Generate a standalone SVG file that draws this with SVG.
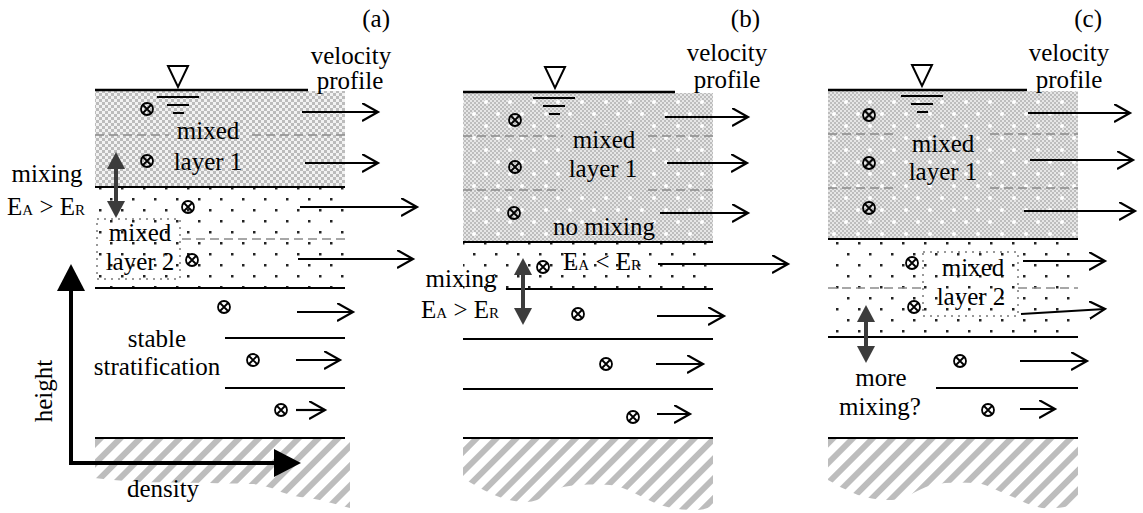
<svg xmlns="http://www.w3.org/2000/svg" width="1143" height="513" viewBox="0 0 1143 513" font-family="'Liberation Serif', 'DejaVu Serif', serif">
<defs>
<style>
text{font-family:'Liberation Serif','DejaVu Serif',serif;font-size:25px;fill:#000}
.m{text-anchor:middle}
.ln{stroke:#000;stroke-width:2;fill:none}
.sf{stroke:#000;stroke-width:2.5;fill:none}
.ds{stroke:#8a8a8a;stroke-width:1.6;stroke-dasharray:9 5;fill:none}
.va{stroke:#000;stroke-width:2.2;fill:none;marker-end:url(#vh)}
.mx{stroke:#3c3c3c;stroke-width:4;fill:none;marker-start:url(#mh);marker-end:url(#mh)}
.bx{fill:none;stroke:#999;stroke-width:2;stroke-dasharray:2 5}
</style>
<pattern id="chkA" width="6" height="6" patternUnits="userSpaceOnUse"><rect width="6" height="6" fill="#f2f2f2"/><rect width="3" height="3" fill="#bcbcbc"/><rect x="3" y="3" width="3" height="3" fill="#bcbcbc"/></pattern>
<pattern id="chkS" width="4" height="4" patternUnits="userSpaceOnUse"><rect width="4" height="4" fill="#e6e6e6"/><rect width="2" height="2" fill="#bdbdbd"/><rect x="2" y="2" width="2" height="2" fill="#bdbdbd"/></pattern>
<pattern id="chkB" width="24" height="24" patternUnits="userSpaceOnUse"><rect width="24" height="24" fill="url(#chkS)"/><circle cx="6" cy="6" r="2" fill="#fff"/><circle cx="18" cy="18" r="2" fill="#fff"/></pattern>
<pattern id="dots" width="22" height="22" patternUnits="userSpaceOnUse"><rect width="22" height="22" fill="#fff"/><rect x="0" y="0" width="2.5" height="2.5" fill="#222"/><rect x="11" y="11" width="2.5" height="2.5" fill="#222"/></pattern>
<pattern id="hatch" width="14" height="14" patternUnits="userSpaceOnUse" patternTransform="rotate(45)"><rect width="14" height="14" fill="#fff"/><rect width="6" height="14" fill="#bdbdbd"/></pattern>
<marker id="vh" markerUnits="userSpaceOnUse" markerWidth="20" markerHeight="20" refX="16" refY="9" orient="auto"><path d="M0,0 L16,9 L0,18" fill="none" stroke="#000" stroke-width="2.2"/></marker>
<marker id="mh" markerUnits="userSpaceOnUse" markerWidth="18" markerHeight="18" refX="7" refY="9" orient="auto-start-reverse"><path d="M0,0 L17,9 L0,18 z" fill="#3c3c3c"/></marker>
<marker id="ah" markerUnits="userSpaceOnUse" markerWidth="28" markerHeight="30" refX="16" refY="14" orient="auto-start-reverse"><path d="M0,0 L27,14 L0,28 z" fill="#000"/></marker>
<g id="ox"><circle r="6" fill="none" stroke="#000" stroke-width="1.8"/><path d="M-4,-4 L4,4 M-4,4 L4,-4" stroke="#000" stroke-width="1.8"/></g>
<path id="wl" d="M0,0 H42 M10,8 H32 M16,16 H27" stroke="#000" stroke-width="2"/>
<path id="nab" d="M0,0 H20 L10,21 Z" fill="none" stroke="#000" stroke-width="2"/>
</defs>
<rect width="1143" height="513" fill="#fff"/>

<!-- Panel (a) -->
<g id="panel-a">
<rect x="95" y="91" width="250" height="96" fill="url(#chkA)"/>
<rect x="95" y="187" width="250" height="101" fill="url(#dots)"/>
<path d="M95,439 H350 V508 C335,504 315,498 300,497 C280,494 270,484 250,484 C220,483 170,483 140,482 C120,481 105,479 95,478 Z" fill="url(#hatch)"/>
<path class="ds" d="M95,135 H169 M252,135 H345 M182,239 H345"/>
<rect class="bx" x="97" y="219" width="83" height="60"/>
<path class="sf" d="M95,90 H308"/>
<path class="ln" d="M95,187 H345 M95,288 H345 M225,338 H345 M225,388 H345 M95,438 H345"/>
<use href="#nab" x="168" y="66"/>
<use href="#wl" x="157" y="97"/>
<use href="#ox" x="147" y="109"/><use href="#ox" x="147" y="161"/><use href="#ox" x="188" y="207"/><use href="#ox" x="192" y="260"/><use href="#ox" x="224" y="307"/><use href="#ox" x="253" y="360"/><use href="#ox" x="281" y="410"/>
<text x="390" y="27" text-anchor="end">(a)</text>
<text class="m" x="351" y="64">velocity</text>
<text class="m" x="350" y="89">profile</text>
<text class="m" x="208" y="139">mixed</text>
<text class="m" x="208" y="170">layer 1</text>
<text class="m" x="47" y="182">mixing</text>
<text x="7" y="215">E<tspan font-size="15">A</tspan> &gt; E<tspan font-size="15">R</tspan></text>
<text class="m" x="140" y="241">mixed</text>
<text class="m" x="140" y="270">layer 2</text>
<text class="m" x="157" y="347">stable</text>
<text class="m" x="157" y="375">stratification</text>
<text class="m" x="163" y="497">density</text>
<text class="m" transform="translate(52,391) rotate(-90)">height</text>
<polyline points="71,275 71,463 290,463" fill="none" stroke="#000" stroke-width="4" marker-start="url(#ah)" marker-end="url(#ah)"/>
</g>

<!-- Panel (b) -->
<g id="panel-b">
<rect x="463" y="93" width="250" height="149" fill="url(#chkB)"/>
<rect x="563" y="125" width="85" height="68" fill="url(#chkS)"/>
<rect x="463" y="242" width="250" height="47" fill="url(#dots)"/>
<path d="M463,439 H713 V505 C705,510 700,510 693,510 C680,510 670,508 660,505 C640,497 625,486 610,485 C595,484 575,484 563,487 C550,492 540,502 527,502 C510,502 495,498 463,478 Z" fill="url(#hatch)"/>
<path class="ds" d="M463,136 H563 M648,136 H713 M463,190 H563 M648,190 H713"/>
<path class="sf" d="M463,92 H675"/>
<path class="ln" d="M463,242 H713 M506,289 H713 M463,339 H713 M463,389 H713 M463,438 H713"/>
<use href="#nab" x="545" y="67"/>
<use href="#wl" x="533" y="98"/>
<use href="#ox" x="515" y="120"/><use href="#ox" x="515" y="167"/><use href="#ox" x="514" y="213"/><use href="#ox" x="543" y="267"/><use href="#ox" x="578" y="314"/><use href="#ox" x="606" y="364"/><use href="#ox" x="633" y="417"/>
<text x="760" y="27" text-anchor="end">(b)</text>
<text class="m" x="727" y="61">velocity</text>
<text class="m" x="727" y="88">profile</text>
<text class="m" x="604" y="148">mixed</text>
<text class="m" x="603" y="177">layer 1</text>
<text class="m" x="604" y="235">no mixing</text>
<text x="563" y="270">E<tspan font-size="15">A</tspan> &lt; E<tspan font-size="15">R</tspan></text>
<text class="m" x="461" y="287">mixing</text>
<text x="421" y="318">E<tspan font-size="15">A</tspan> &gt; E<tspan font-size="15">R</tspan></text>
</g>

<!-- Panel (c) -->
<g id="panel-c">
<rect x="828" y="91" width="250" height="148" fill="url(#chkB)"/>
<rect x="828" y="239" width="250" height="98" fill="url(#dots)"/>
<path d="M828,439 H1078 V503 C1065,508 1052,509 1042,508 C1025,505 1018,498 1008,495 C995,490 985,483 975,483 C960,482 945,482 932,485 C915,490 905,500 892,500 C878,500 868,498 858,495 C845,490 835,484 828,480 Z" fill="url(#hatch)"/>
<path class="ds" d="M828,134 H895 M990,134 H1078 M828,188 H895 M990,188 H1078 M828,288 H923 M1018,288 H1078"/>
<rect class="bx" x="923" y="252" width="95" height="64"/>
<path class="sf" d="M828,90 H1027"/>
<path class="ln" d="M828,239 H1078 M828,337 H1078 M936,388 H1078 M828,438 H1078"/>
<use href="#nab" x="912" y="65"/>
<use href="#wl" x="901" y="96"/>
<use href="#ox" x="869" y="115"/><use href="#ox" x="869" y="163"/><use href="#ox" x="869" y="208"/><use href="#ox" x="912" y="263"/><use href="#ox" x="914" y="307"/><use href="#ox" x="960" y="361"/><use href="#ox" x="988" y="410"/>
<text x="1102" y="27" text-anchor="end">(c)</text>
<text class="m" x="1069" y="61">velocity</text>
<text class="m" x="1069" y="88">profile</text>
<text class="m" x="943" y="152">mixed</text>
<text class="m" x="943" y="180">layer 1</text>
<text class="m" x="973" y="276">mixed</text>
<text class="m" x="971" y="305">layer 2</text>
<text class="m" x="881" y="386">more</text>
<text class="m" x="880" y="415">mixing?</text>
</g>

<!-- Connectors -->
<g id="connectors">
<line class="va" x1="302" y1="112" x2="378" y2="112"/>
<line class="va" x1="305" y1="163" x2="378" y2="163"/>
<line class="va" x1="300" y1="207" x2="417" y2="207"/>
<line class="va" x1="298" y1="259" x2="413" y2="259"/>
<line class="va" x1="297" y1="312" x2="353" y2="312"/>
<line class="va" x1="296" y1="360" x2="340" y2="360"/>
<line class="va" x1="296" y1="410" x2="325" y2="410"/>
<line class="va" x1="665" y1="117" x2="748" y2="117"/>
<line class="va" x1="667" y1="163" x2="747" y2="163"/>
<line class="va" x1="660" y1="213" x2="748" y2="213"/>
<line class="va" x1="658" y1="264" x2="788" y2="264"/>
<line class="va" x1="657" y1="316" x2="724" y2="316"/>
<line class="va" x1="656" y1="364" x2="703" y2="364"/>
<line class="va" x1="657" y1="414" x2="690" y2="414"/>
<line class="va" x1="1028" y1="113" x2="1130" y2="113"/>
<line class="va" x1="1030" y1="160" x2="1133" y2="160"/>
<line class="va" x1="1024" y1="211" x2="1135" y2="211"/>
<line class="va" x1="1023" y1="261" x2="1105" y2="261"/>
<line class="va" x1="1021" y1="314" x2="1105" y2="309"/>
<line class="va" x1="1020" y1="361" x2="1087" y2="361"/>
<line class="va" x1="1020" y1="409" x2="1055" y2="409"/>
<line class="mx" x1="116" y1="162" x2="116" y2="208"/>
<line class="mx" x1="523" y1="268" x2="523" y2="315"/>
<line class="mx" x1="866" y1="315" x2="866" y2="353"/>
</g>
</svg>
